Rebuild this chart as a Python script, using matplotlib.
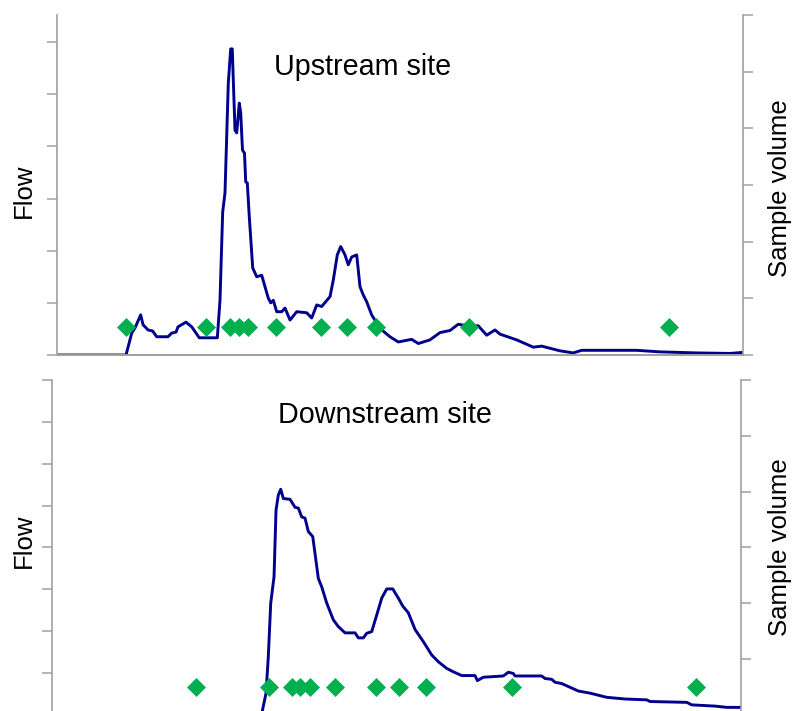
import matplotlib
matplotlib.use("Agg")
import matplotlib.pyplot as plt

plt.rcParams['font.family'] = ['Liberation Sans', 'DejaVu Sans']

# Upstream site: flow record (time as % of event window, flow in axis units)
up_time = [0, 10.06, 10.89, 11.37, 12.20, 12.54, 13.27, 13.95, 14.53, 16.18, 16.72,
           17.35, 17.64, 18.80, 19.64, 20.74, 23.37, 23.76, 24.15, 24.49, 24.97,
           25.32, 25.55, 25.70, 25.95, 26.20, 26.57, 26.78, 27.04, 27.33, 27.51,
           27.74, 28.03, 28.53, 29.11, 29.84, 30.32, 30.80, 31.15, 31.53, 32.03,
           32.75, 33.24, 33.97, 34.94, 36.40, 37.13, 37.86, 38.59, 39.80, 40.28,
           40.86, 41.36, 41.98, 42.46, 42.96, 43.69, 44.17, 44.65, 45.15, 45.87,
           47.08, 48.54, 49.75, 51.70, 52.67, 54.37, 55.83, 57.29, 58.50, 59.72,
           61.41, 62.64, 63.85, 64.58, 67.01, 69.43, 70.66, 73.32, 75.26, 76.49,
           84.50, 87.90, 93.25, 98.10, 100]
up_flow = [0, 0, 0.42, 0.52, 0.77, 0.58, 0.48, 0.46, 0.35, 0.35, 0.42,
           0.44, 0.54, 0.63, 0.54, 0.33, 0.33, 1.05, 2.74, 3.11, 5.21,
           5.87, 5.87, 5.27, 4.31, 4.26, 4.83, 4.64, 3.93, 3.87, 3.32,
           3.30, 2.65, 1.67, 1.50, 1.53, 1.31, 1.09, 1.00, 1.05, 0.83,
           0.83, 0.90, 0.67, 0.83, 0.81, 0.71, 0.96, 0.93, 1.12, 1.44,
           1.92, 2.08, 1.92, 1.73, 1.88, 1.92, 1.31, 1.15, 1.02, 0.77,
           0.51, 0.35, 0.25, 0.30, 0.22, 0.29, 0.43, 0.47, 0.59, 0.56,
           0.56, 0.38, 0.48, 0.40, 0.29, 0.15, 0.17, 0.08, 0.04, 0.09,
           0.09, 0.06, 0.04, 0.03, 0.05]
up_sample_time = [9.99, 21.65, 25.22, 26.57, 27.89, 31.92, 38.44, 42.32, 46.43, 60.13, 89.29]
up_sample_vol = [0.5] * len(up_sample_time)

# Downstream site
down_time = [0, 30.40, 31.06, 31.39, 31.74, 32.22, 32.51, 32.84, 33.19, 33.57, 34.54,
             35.27, 35.75, 36.24, 36.72, 37.20, 37.84, 38.65, 39.14, 39.87, 40.83,
             41.55, 42.53, 43.98, 44.46, 45.18, 45.67, 46.40, 47.13, 47.85, 48.58,
             49.45, 50.26, 50.90, 51.71, 52.69, 53.89, 55.11, 56.07, 57.29, 58.24,
             59.46, 61.39, 61.73, 62.60, 65.50, 66.23, 66.95, 67.20, 71.07, 71.55,
             72.53, 73.00, 73.95, 75.18, 76.39, 78.08, 80.51, 83.16, 86.31, 86.79,
             92.12, 92.84, 96.23, 97.92, 100]
down_flow = [0, 0, 0.52, 1.39, 2.67, 3.30, 4.89, 5.25, 5.39, 5.17, 5.15,
             4.96, 4.94, 4.73, 4.70, 4.38, 4.26, 3.26, 3.06, 2.67, 2.27,
             2.11, 1.96, 1.96, 1.84, 1.84, 1.95, 1.99, 2.39, 2.79, 3.01,
             3.01, 2.79, 2.60, 2.44, 2.04, 1.75, 1.43, 1.27, 1.11, 1.03,
             0.94, 0.94, 0.82, 0.90, 0.93, 1.02, 0.99, 0.93, 0.93, 0.87,
             0.85, 0.78, 0.75, 0.66, 0.57, 0.52, 0.42, 0.38, 0.36, 0.32,
             0.30, 0.24, 0.21, 0.18, 0.18]
down_sample_time = [20.90, 31.49, 34.76, 35.99, 37.37, 41.00, 47.02, 50.36, 54.28, 66.76, 93.47]
down_sample_vol = [0.5] * len(down_sample_time)

LINE = '#00008C'
GREEN = '#00B050'
AXIS = '#A0A0A0'

fig = plt.figure(figsize=(7.93, 7.11), dpi=100)


def style_panel(ax, ax2, show_bottom):
    for a in (ax, ax2):
        a.set_xticks([])
        a.spines['top'].set_visible(False)
        for s in ('left', 'right', 'bottom'):
            a.spines[s].set_color(AXIS)
            a.spines[s].set_linewidth(1.2)
        a.spines['bottom'].set_visible(show_bottom)
        a.tick_params(axis='y', direction='out', length=7, width=1.1,
                      color=AXIS, labelleft=False, labelright=False)
    ax2.spines['left'].set_visible(False)
    ax.spines['right'].set_visible(False)


def panel(rect, t, f, st, sv, flow_max, flow_ticks, show_bottom):
    ax = fig.add_axes(rect)
    ax2 = ax.twinx()
    ax.plot(t, f, color=LINE, lw=2.1, solid_joinstyle='round')
    ax2.plot(st, sv, linestyle='none', marker='D', markersize=9,
             markerfacecolor=GREEN, markeredgecolor=GREEN, markeredgewidth=0.5)
    ax.set_xlim(0, 100)
    ax.set_ylim(0, flow_max)
    ax.set_yticks(flow_ticks)
    ax2.set_ylim(0, 6)
    ax2.set_yticks(range(0, 7))
    style_panel(ax, ax2, show_bottom)
    return ax, ax2


panel([0.0719, 0.5007, 0.865, 0.4782], up_time, up_flow, up_sample_time,
      up_sample_vol, 6.52, range(0, 7), True)
panel([0.0656, -0.0055, 0.8689, 0.471], down_time, down_flow, down_sample_time,
      down_sample_vol, 8, range(0, 9), False)

fig.text(0.4571, 0.8945, 'Upstream site', ha='center', va='baseline', fontsize=20.7)
fig.text(0.4855, 0.405, 'Downstream site', ha='center', va='baseline', fontsize=20.7)

fig.text(0.030, 0.7316, 'Flow', rotation=90, ha='center', va='center', fontsize=18.5)
fig.text(0.030, 0.2398, 'Flow', rotation=90, ha='center', va='center', fontsize=18.5)
fig.text(0.984, 0.736, 'Sample volume', rotation=90, ha='center', va='center', fontsize=18.5)
fig.text(0.984, 0.2307, 'Sample volume', rotation=90, ha='center', va='center', fontsize=18.5)

fig.savefig('out.png', dpi=100)
